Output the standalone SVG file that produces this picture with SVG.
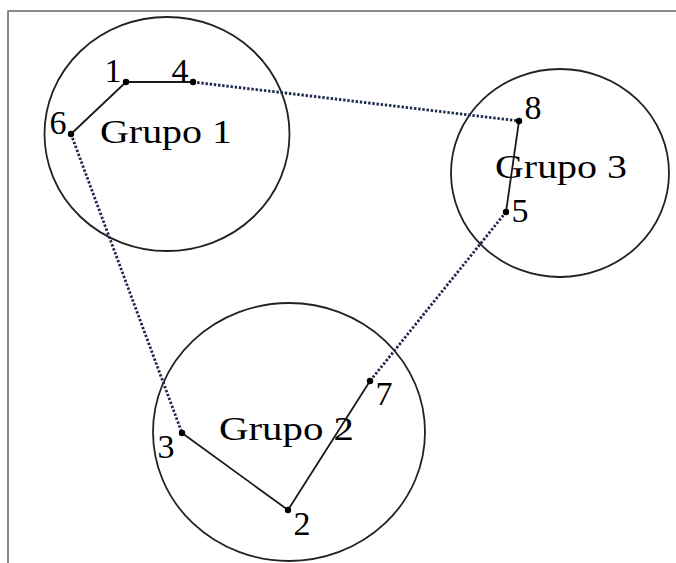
<svg xmlns="http://www.w3.org/2000/svg" width="676" height="563" viewBox="0 0 676 563">
<style>
.frame{fill:none;stroke:#666;stroke-width:1.5}
.ring{fill:none;stroke:#222;stroke-width:1.8}
.solid{stroke:#1a1a1a;stroke-width:1.8;fill:none}
.dot{stroke:#1e2a50;stroke-width:2.8;stroke-dasharray:2.4 1.8;fill:none}
.pt{fill:#000}
text{font-family:"Liberation Serif","Times New Roman",serif;font-size:34px;fill:#000}
.num{text-anchor:middle;font-size:34px}
</style>
<rect width="676" height="563" fill="#fff"/>
<path class="frame" d="M8,563 V11 H676"/>
<g id="grupo1">
<ellipse class="ring" cx="167" cy="134" rx="122.5" ry="117"/>
<text x="100" y="143" textLength="132" lengthAdjust="spacingAndGlyphs">Grupo 1</text>
</g>
<g id="grupo3">
<ellipse class="ring" cx="560" cy="173" rx="109" ry="104"/>
<text x="495" y="178" textLength="132" lengthAdjust="spacingAndGlyphs">Grupo 3</text>
</g>
<g id="grupo2">
<ellipse class="ring" cx="289" cy="432" rx="136" ry="129"/>
<text x="219" y="440" textLength="135" lengthAdjust="spacingAndGlyphs">Grupo 2</text>
</g>
<g id="connectors">
<path class="solid" d="M126,82 H193"/>
<path class="solid" d="M126,82 L71,134"/>
<path class="solid" d="M519,121 L506,212"/>
<path class="solid" d="M182,433 L288,510 L370,381"/>
<path class="dot" d="M193,82 L519,121"/>
<path class="dot" d="M71,134 L182,433"/>
<path class="dot" d="M506,212 L370,381"/>
</g>
<g id="n1"><circle class="pt" cx="126" cy="82" r="3.2"/><text class="num" x="113" y="82">1</text></g>
<g id="n4"><circle class="pt" cx="193" cy="82" r="3.2"/><text class="num" x="180" y="82">4</text></g>
<g id="n6"><circle class="pt" cx="71" cy="134" r="3.2"/><text class="num" x="58" y="134">6</text></g>
<g id="n8"><circle class="pt" cx="519" cy="121" r="3.2"/><text class="num" x="533" y="119">8</text></g>
<g id="n5"><circle class="pt" cx="506" cy="212" r="3.2"/><text class="num" x="520" y="222">5</text></g>
<g id="n3"><circle class="pt" cx="182" cy="433" r="3.2"/><text class="num" x="166" y="458">3</text></g>
<g id="n7"><circle class="pt" cx="370" cy="381" r="3.2"/><text class="num" x="384" y="405">7</text></g>
<g id="n2"><circle class="pt" cx="288" cy="510" r="3.2"/><text class="num" x="302" y="535">2</text></g>
</svg>
